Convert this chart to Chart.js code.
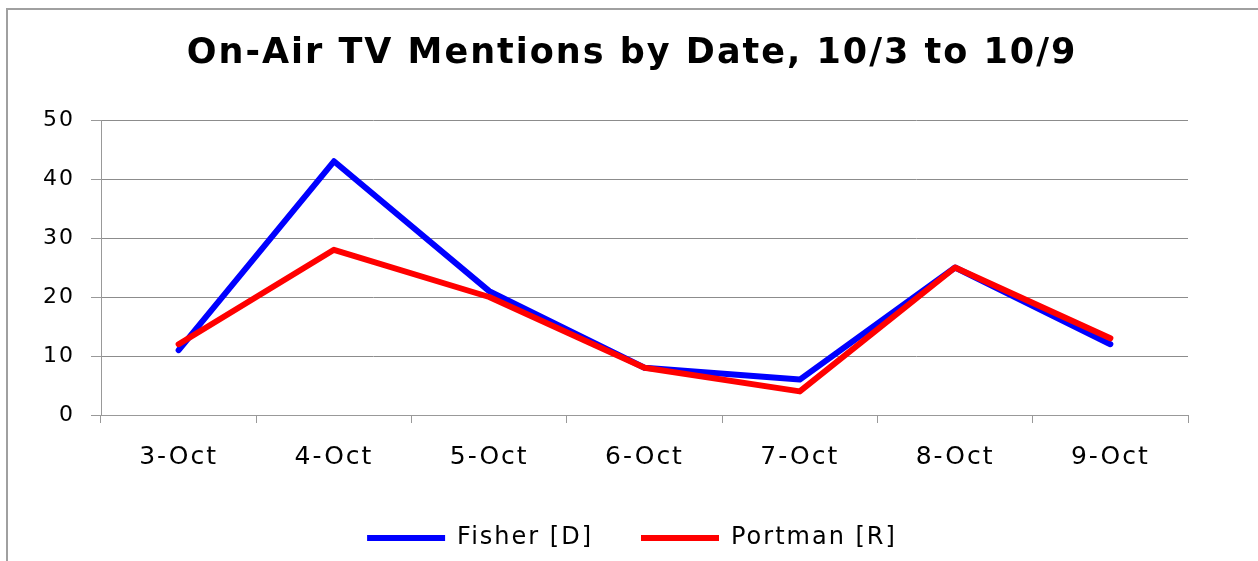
<!DOCTYPE html>
<html>
<head>
<meta charset="utf-8">
<script src="https://cdn.jsdelivr.net/npm/chart.js@4/dist/chart.umd.min.js"></script>
<style>
  html, body { margin: 0; padding: 0; background: #fff; }
  #wrap { position: relative; width: 1258px; height: 561px; }
  #frame { position: absolute; left: 6px; top: 8px; right: -10px; bottom: -10px;
           border-left: 2px solid #a0a0a0; border-top: 2px solid #a0a0a0; pointer-events: none; }
  canvas { position: absolute; left: 0; top: 0; }
</style>
</head>
<body>
<div id="wrap">
  <canvas id="c" width="1258" height="561"></canvas>
  <div id="frame"></div>
</div>
<script>
const chartTitle = 'On-Air TV Mentions by Date, 10/3 to 10/9';
const categories = ['3-Oct', '4-Oct', '5-Oct', '6-Oct', '7-Oct', '8-Oct', '9-Oct'];
const fisherLabel = 'Fisher [D]';
const fisherValues = [11, 43, 21, 8, 6, 25, 12];
const portmanLabel = 'Portman [R]';
const portmanValues = [12, 28, 20, 8, 4, 25, 13];
const yTicks = [0, 10, 20, 30, 40, 50];

const spacingPlugin = {
  id: 'spacing',
  beforeLayout(chart) { chart.ctx.letterSpacing = '2px'; },
  afterLayout(chart) {
    // centre title and legend over the frame rather than over the whole canvas
    if (chart.titleBlock) chart.titleBlock.left = 76;
    if (chart.legend) chart.legend.left = 76;
  },
  beforeDraw(chart) { chart.ctx.letterSpacing = '2px'; }
};

new Chart(document.getElementById('c'), {
  type: 'line',
  data: {
    labels: categories,
    datasets: [
      { label: fisherLabel, data: fisherValues, borderColor: '#0000ff', backgroundColor: '#0000ff',
        borderWidth: 6, pointRadius: 0, borderCapStyle: 'round', borderJoinStyle: 'round', tension: 0, order: 1 },
      { label: portmanLabel, data: portmanValues, borderColor: '#ff0000', backgroundColor: '#ff0000',
        borderWidth: 6, pointRadius: 0, borderCapStyle: 'round', borderJoinStyle: 'round', tension: 0, order: 0 }
    ]
  },
  options: {
    responsive: false,
    animation: false,
    layout: { padding: { left: 0, right: 70, top: 0, bottom: 1 } },
    plugins: {
      title: {
        display: true, text: chartTitle, color: '#000',
        font: { family: 'DejaVu Sans', size: 35, weight: 'bold' },
        padding: { top: 33, bottom: 45 }
      },
      legend: {
        position: 'bottom',
        labels: {
          usePointStyle: true, pointStyle: 'line', pointStyleWidth: 78,
          color: '#000', font: { family: 'DejaVu Sans', size: 24 }, padding: 48,
          sort: (a, b) => a.datasetIndex - b.datasetIndex
        }
      },
      tooltip: { enabled: false }
    },
    scales: {
      x: {
        offset: true,
        grid: { offset: true, drawOnChartArea: false, drawTicks: true, tickLength: 8, color: '#999', lineWidth: 1 },
        border: { color: '#999', width: 1 },
        ticks: { color: '#000', font: { family: 'DejaVu Sans', size: 25 }, padding: 19, maxRotation: 0 },
        afterFit(scale) { scale.height = 63; }
      },
      y: {
        min: 0, max: 50,
        afterBuildTicks(scale) { scale.ticks = yTicks.map(v => ({ value: v })); },
        grid: { color: '#8c8c8c', lineWidth: 1, drawTicks: true, tickLength: 10, tickColor: '#999' },
        border: { color: '#999', width: 1 },
        ticks: { color: '#000', font: { family: 'DejaVu Sans', size: 22 }, padding: 16 },
        afterFit(scale) { scale.width = 101; }
      }
    }
  },
  plugins: [spacingPlugin]
});
</script>
</body>
</html>
